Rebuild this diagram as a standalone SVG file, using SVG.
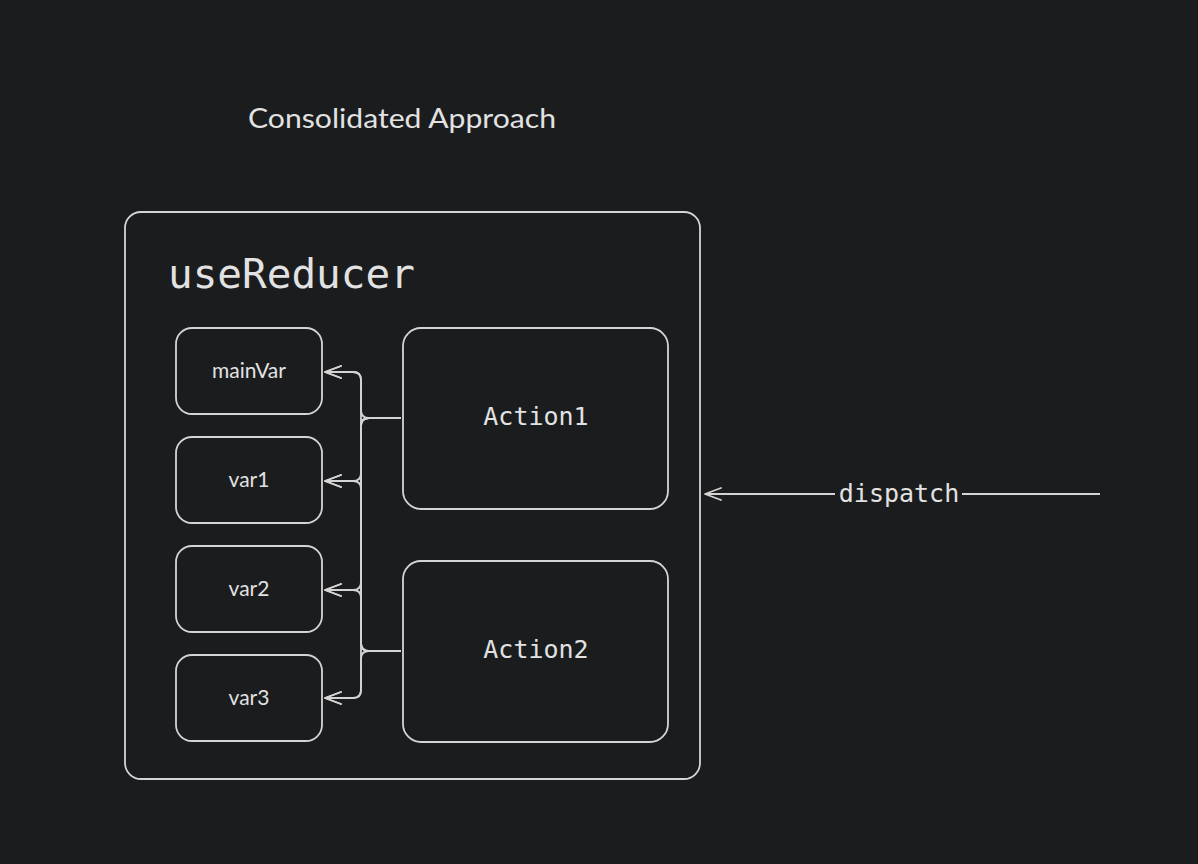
<svg xmlns="http://www.w3.org/2000/svg" width="1198" height="864" viewBox="0 0 1198 864">
<defs>
<style>
.box{fill:none;stroke:#d4d4d4;stroke-width:1.8}
.conn{fill:none;stroke:#d4d4d4;stroke-width:1.8;stroke-linejoin:round}
.hand{font-family:"Lato","Open Sans","Liberation Sans",sans-serif;fill:#e2e2e2}
.mono{font-family:"DejaVu Sans Mono","Liberation Mono",monospace;fill:#e2e2e2}
</style>
<marker id="arr" viewBox="0 0 20 20" refX="19" refY="10" markerWidth="20" markerHeight="20" markerUnits="userSpaceOnUse" orient="auto-start-reverse">
<path d="M3,4 L19,10 L3,16" fill="none" stroke="#d4d4d4" stroke-width="1.8" stroke-linecap="round" stroke-linejoin="round"/>
</marker>
</defs>
<rect width="1198" height="864" fill="#1b1c1e"/>
<text class="hand" x="402" y="128" font-size="26" text-anchor="middle" textLength="308" lengthAdjust="spacingAndGlyphs">Consolidated Approach</text>
<g id="useReducer">
<rect class="box" x="125" y="212" width="575" height="567" rx="16"/>
<text class="mono" x="168" y="288" font-size="41">useReducer</text>
</g>
<g id="mainVar">
<rect class="box" x="176" y="328" width="146" height="86" rx="16"/>
<text class="hand" x="249" y="378" font-size="21" text-anchor="middle">mainVar</text>
</g>
<g id="var1">
<rect class="box" x="176" y="437" width="146" height="86" rx="16"/>
<text class="hand" x="249" y="487" font-size="21" text-anchor="middle">var1</text>
</g>
<g id="var2">
<rect class="box" x="176" y="546" width="146" height="86" rx="16"/>
<text class="hand" x="249" y="596" font-size="21" text-anchor="middle">var2</text>
</g>
<g id="var3">
<rect class="box" x="176" y="655" width="146" height="86" rx="16"/>
<text class="hand" x="249" y="705" font-size="21" text-anchor="middle">var3</text>
</g>
<g id="action1">
<rect class="box" x="403" y="328" width="265" height="181" rx="18"/>
<text class="mono" x="536" y="425" font-size="25" text-anchor="middle">Action1</text>
</g>
<g id="action2">
<rect class="box" x="403" y="561" width="265" height="181" rx="18"/>
<text class="mono" x="536" y="658" font-size="25" text-anchor="middle">Action2</text>
</g>
<g id="connectors">
<path class="conn" marker-end="url(#arr)" d="M401,418 H369 Q361,418 361,410 V380 Q361,372 353,372 H325"/>
<path class="conn" marker-end="url(#arr)" d="M401,418 H369 Q361,418 361,426 V473 Q361,481 353,481 H325"/>
<path class="conn" marker-end="url(#arr)" d="M401,418 H369 Q361,418 361,426 V582 Q361,590 353,590 H325"/>
<path class="conn" marker-end="url(#arr)" d="M401,418 H369 Q361,418 361,426 V690 Q361,698 353,698 H325"/>
<path class="conn" marker-end="url(#arr)" d="M401,651 H369 Q361,651 361,643 V380 Q361,372 353,372 H325"/>
<path class="conn" marker-end="url(#arr)" d="M401,651 H369 Q361,651 361,643 V489 Q361,481 353,481 H325"/>
<path class="conn" marker-end="url(#arr)" d="M401,651 H369 Q361,651 361,643 V598 Q361,590 353,590 H325"/>
<path class="conn" marker-end="url(#arr)" d="M401,651 H369 Q361,651 361,659 V690 Q361,698 353,698 H325"/>
<path class="conn" d="M1100,494 H962"/>
<path class="conn" marker-end="url(#arr)" d="M835,494 H705"/>
<text class="mono" x="899" y="502" font-size="25" text-anchor="middle">dispatch</text>
</g>
</svg>
